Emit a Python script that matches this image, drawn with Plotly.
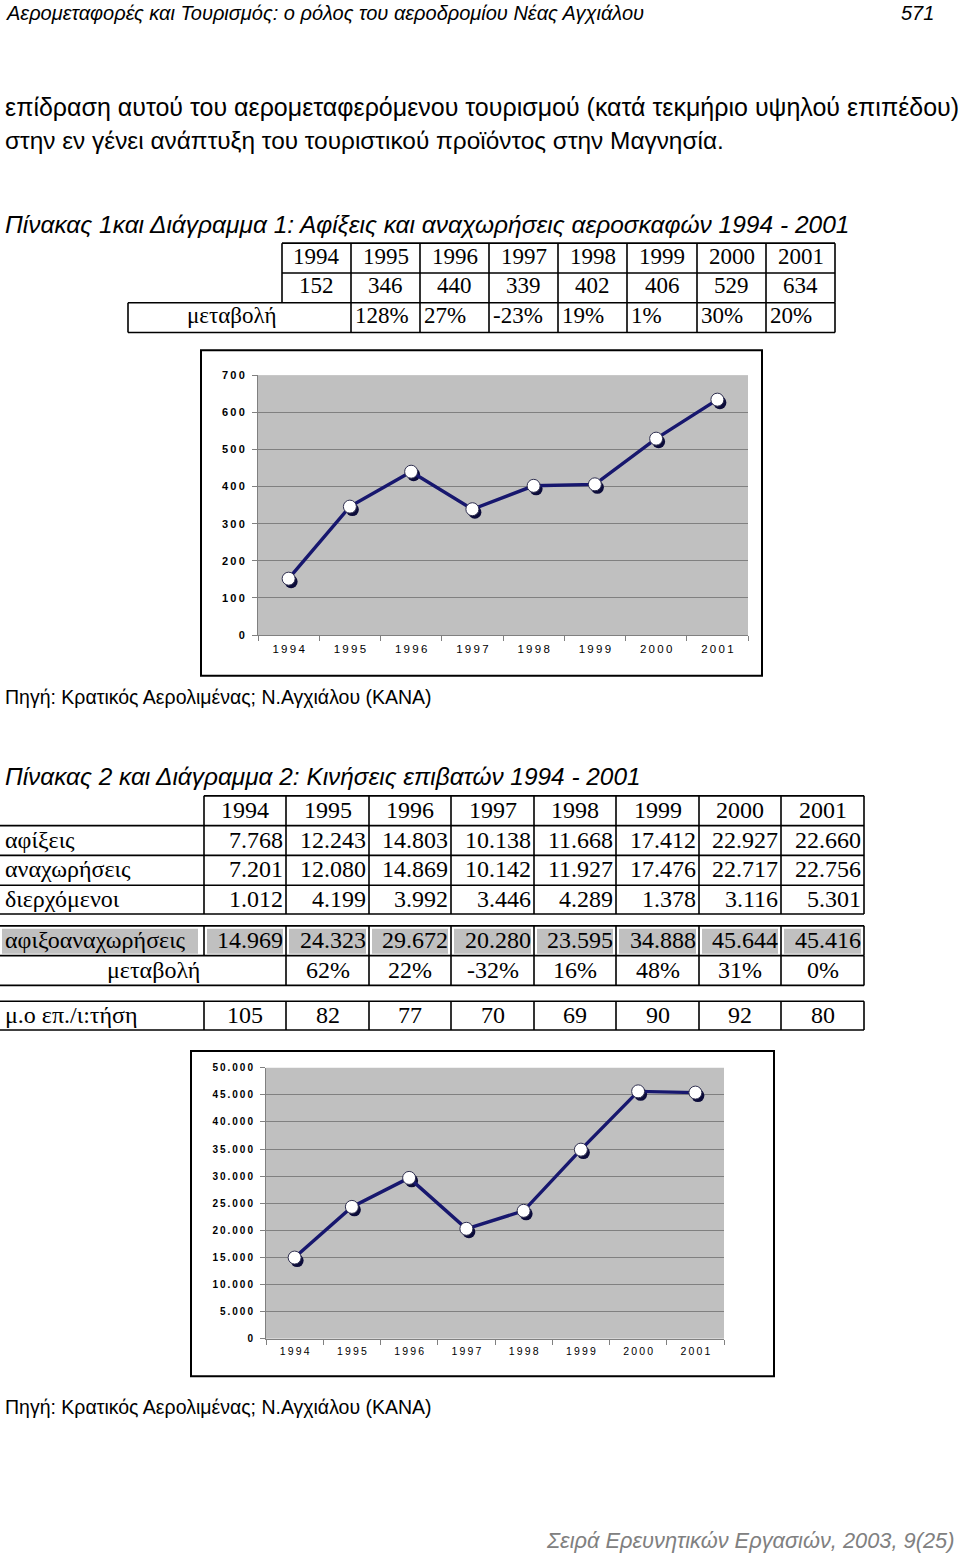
import plotly.graph_objects as go

# ---------------- data ----------------
years = ["1994", "1995", "1996", "1997", "1998", "1999", "2000", "2001"]
aircraft = [152, 346, 440, 339, 402, 406, 529, 634]
aircraft_change = ["128%", "27%", "-23%", "19%", "1%", "30%", "20%"]

arrivals = [7768, 12243, 14803, 10138, 11668, 17412, 22927, 22660]
departures = [7201, 12080, 14869, 10142, 11927, 17476, 22717, 22756]
transit = [1012, 4199, 3992, 3446, 4289, 1378, 3116, 5301]
pax_total = [14969, 24323, 29672, 20280, 23595, 34888, 45644, 45416]
pax_change = ["62%", "22%", "-32%", "16%", "48%", "31%", "0%"]
per_flight = [105, 82, 77, 70, 69, 90, 92, 80]

y1_ticks = [0, 100, 200, 300, 400, 500, 600, 700]
y2_ticks = [0, 5000, 10000, 15000, 20000, 25000, 30000, 35000, 40000, 45000, 50000]

header_text = "Αερομεταφορές και Τουρισμός: ο ρόλος του αεροδρομίου Νέας Αγχιάλου"
page_no = "571"
para1 = "επίδραση αυτού του αερομεταφερόμενου τουρισμού (κατά τεκμήριο υψηλού επιπέδου)"
para2 = "στην εν γένει ανάπτυξη του τουριστικού προϊόντος στην Μαγνησία."
title1 = "Πίνακας 1και Διάγραμμα 1: Αφίξεις και αναχωρήσεις αεροσκαφών 1994 - 2001"
title2 = "Πίνακας 2 και Διάγραμμα 2: Κινήσεις επιβατών 1994 - 2001"
source = "Πηγή: Κρατικός Αερολιμένας; Ν.Αγχιάλου (ΚΑΝΑ)"
footer = "Σειρά Ερευνητικών Εργασιών, 2003, 9(25)"
row_labels = ["αφίξεις", "αναχωρήσεις", "διερχόμενοι"]
total_label = "αφιξοαναχωρήσεις"
change_label = "μεταβολή"
avg_label = "μ.ο επ./ι:τήση"

# ---------------- helpers ----------------
W, H = 960, 1559
def X(px): return px / W
def Y(py): return 1 - py / H

def fmt(v):
    return f"{v:,}".replace(",", ".")

def spaced(s):
    return "\u2009".join(s)

fig = go.Figure()
shapes, ann = [], []

def text(x, y, s, size, family="Liberation Sans", color="black", xanchor="left",
         italic=False, weight="normal"):
    ann.append(dict(x=X(x), y=Y(y), xref="paper", yref="paper", text=s, showarrow=False,
                    xanchor=xanchor, yanchor="middle", borderpad=0,
                    font=dict(family=family, size=size, color=color,
                              style="italic" if italic else "normal", weight=weight)))

def hline(x0, x1, y, w=1.6):
    shapes.append(dict(type="line", xref="paper", yref="paper", x0=X(x0), x1=X(x1),
                       y0=Y(y), y1=Y(y), line=dict(color="black", width=w)))

def vline(x, y0, y1, w=1.6):
    shapes.append(dict(type="line", xref="paper", yref="paper", x0=X(x), x1=X(x),
                       y0=Y(y0), y1=Y(y1), line=dict(color="black", width=w)))

def rect(x0, y0, x1, y1, fill=None, lw=0, lc="black"):
    shapes.append(dict(type="rect", xref="paper", yref="paper", x0=X(x0), x1=X(x1),
                       y0=Y(y1), y1=Y(y0), fillcolor=fill or "rgba(0,0,0,0)",
                       line=dict(color=lc, width=lw), layer="below" if fill else "above"))

SERIF = "Liberation Serif"

# ---------------- page text ----------------
text(5, 7, header_text, 20, italic=True)
text(935, 7, page_no, 20, italic=True, xanchor="right")
text(4, 102, para1, 25)
text(4, 136, para2, 24.4)
text(4, 220, title1, 24.5, italic=True)
text(4, 696, source, 19.5)
text(4, 776, title2, 24.4, italic=True)
text(4, 1412, source, 19.5)
text(955, 1546, footer, 21.8, italic=True, color="#808080", xanchor="right")

# ---------------- table 1 ----------------
FS1 = 23
t1c = [282, 351, 420, 489, 558, 627, 697, 766, 835]
t1r = [239, 269, 299, 329]
for i, yr in enumerate(years):
    cx = (t1c[i] + t1c[i + 1]) / 2
    text(cx, 252, yr, FS1, family=SERIF, xanchor="center")
    text(cx, 282, str(aircraft[i]), FS1, family=SERIF, xanchor="center")
text(231, 312, change_label, FS1, family=SERIF, xanchor="center")
for i, ch in enumerate(aircraft_change):
    text(t1c[i + 1] + 3, 312, ch, FS1, family=SERIF)
hline(282, 835, t1r[0]); hline(282, 835, t1r[1])
hline(128, 835, t1r[2]); hline(128, 835, t1r[3])
for x in t1c:
    vline(x, t1r[0], t1r[2])
vline(128, t1r[2], t1r[3])
for x in t1c[1:]:
    vline(x, t1r[2], t1r[3])

# ---------------- table 2 ----------------
t2c = [204, 286, 369, 451, 534, 616, 699, 781, 864]
hdr = (796, 826)
rows = [(826, 856), (856, 886), (886, 915)]
tot = (927, 957)
chg = (957, 987)
avg = (1003, 1032)
FS2 = 24
for i, yr in enumerate(years):
    cx = (t2c[i] + t2c[i + 1]) / 2
    text(cx, 810, yr, FS2, family=SERIF, xanchor="center")
for (r0, r1), lab, vals in zip(rows, row_labels, [arrivals, departures, transit]):
    cy = (r0 + r1) / 2 - 1
    text(4, cy, lab, FS2, family=SERIF)
    for i, v in enumerate(vals):
        text(t2c[i + 1] - 2, cy, fmt(v), FS2, family=SERIF, xanchor="right")
# totals row with grey shading
rect(2, tot[0] + 3, 198, tot[1] - 2, fill="#c0c0c0")
for i in range(8):
    rect(t2c[i] + 3, tot[0] + 3, t2c[i + 1] - 3, tot[1] - 2, fill="#c0c0c0")
cy = sum(tot) / 2 - 1
text(4, cy, total_label, FS2, family=SERIF)
for i, v in enumerate(pax_total):
    text(t2c[i + 1] - 2, cy, fmt(v), FS2, family=SERIF, xanchor="right")
cy = sum(chg) / 2 - 1
text(153, cy, change_label, FS2, family=SERIF, xanchor="center")
for i, ch in enumerate(pax_change):
    text((t2c[i + 1] + t2c[i + 2]) / 2, cy, ch, FS2, family=SERIF, xanchor="center")
cy = sum(avg) / 2 - 1
text(4, cy, avg_label, FS2, family=SERIF)
for i, v in enumerate(per_flight):
    text((t2c[i] + t2c[i + 1]) / 2, cy, str(v), FS2, family=SERIF, xanchor="center")
# borders
hline(204, 864, hdr[0])
for x in t2c:
    vline(x, hdr[0], rows[-1][1])
for (r0, r1) in rows:
    hline(0, 864, r0)
hline(0, 864, rows[-1][1])
hline(0, 864, tot[0]); hline(0, 864, tot[1]); hline(0, 864, chg[1])
for x in t2c:
    vline(x, tot[0], tot[1])
for x in t2c[1:]:
    vline(x, chg[0], chg[1])
hline(0, 864, avg[0]); hline(0, 864, avg[1])
for x in t2c:
    vline(x, avg[0], avg[1])

# ---------------- charts ----------------
cats = [spaced(y) for y in years]
LINE = "#17176e"
GRID = "#808080"

charts = [
    dict(plot=(258, 372, 748, 634), frame=(201, 347, 762, 675), vals=aircraft,
         ymax=700, ticks=y1_ticks, base=("x", "y"), main=("x3", "y3"), msize=13,
         tickfs=11),
    dict(plot=(266, 1070, 724, 1343), frame=(191, 1053, 774, 1381), vals=pax_total,
         ymax=50000, ticks=y2_ticks, base=("x2", "y2"), main=("x4", "y4"), msize=13,
         tickfs=10),
]

layout_axes = {}
for c in charts:
    px0, py0, px1, py1 = c["plot"]
    xdom = [X(px0), X(px1)]
    ydom = [Y(py1), Y(py0)]
    dx = 2.5 / ((px1 - px0) / 8.0)          # shadow shift right (category units)
    dy = 3.0 * c["ymax"] / (py1 - py0)      # shadow shift down (value units)
    bx, by = c["base"]
    mx, my = c["main"]
    bxn = "xaxis" + bx[1:]
    byn = "yaxis" + by[1:]
    mxn = "xaxis" + mx[1:]
    myn = "yaxis" + my[1:]
    layout_axes[bxn] = dict(domain=xdom, anchor=by, type="category", categoryarray=cats,
                            range=[-0.5 - dx, 7.5 - dx], visible=False, fixedrange=True)
    layout_axes[byn] = dict(domain=ydom, anchor=bx, range=[dy, c["ymax"] + dy],
                            visible=False, fixedrange=True)
    layout_axes[mxn] = dict(overlaying=bx, anchor=by, type="category", categoryarray=cats,
                            range=[-0.5, 7.5], tickson="boundaries", ticks="outside",
                            ticklen=5, tickcolor=GRID, tickwidth=1, showline=True,
                            linecolor=GRID, linewidth=1, showgrid=False, zeroline=False,
                            ticklabelstandoff=3,
                            tickfont=dict(family="Liberation Sans", size=c["tickfs"] + 0.5,
                                          color="black"))
    layout_axes[myn] = dict(overlaying=by, anchor=bx, range=[0, c["ymax"]],
                            tickvals=c["ticks"], ticktext=[spaced(fmt(v)) for v in c["ticks"]],
                            ticks="outside", ticklen=5, tickcolor=GRID, tickwidth=1,
                            showline=True, linecolor=GRID, linewidth=1, showgrid=True,
                            gridcolor=GRID, gridwidth=1, zeroline=False,
                            ticklabelstandoff=5,
                            tickfont=dict(family="Liberation Sans", size=c["tickfs"],
                                          color="black", weight="bold"))
    # shadow markers
    fig.add_trace(go.Scatter(x=cats, y=c["vals"], xaxis=bx, yaxis=by, mode="markers",
                             marker=dict(size=c["msize"], color="#0c0c3a"),
                             hoverinfo="skip", showlegend=False))
    # main line + markers
    fig.add_trace(go.Scatter(x=cats, y=c["vals"], xaxis=mx, yaxis=my, mode="lines+markers",
                             line=dict(color=LINE, width=3.4),
                             marker=dict(size=c["msize"], color="white",
                                         line=dict(color="#303050", width=1)),
                             showlegend=False))
    fx0, fy0, fx1, fy1 = c["frame"]
    rect(fx0, fy0, fx1, fy1, lw=2)

fig.update_layout(
    width=W, height=H, margin=dict(l=0, r=0, t=0, b=0),
    paper_bgcolor="white", plot_bgcolor="#c0c0c0",
    showlegend=False, shapes=shapes, annotations=ann,
    **layout_axes,
)

fig.write_html("out.html")
